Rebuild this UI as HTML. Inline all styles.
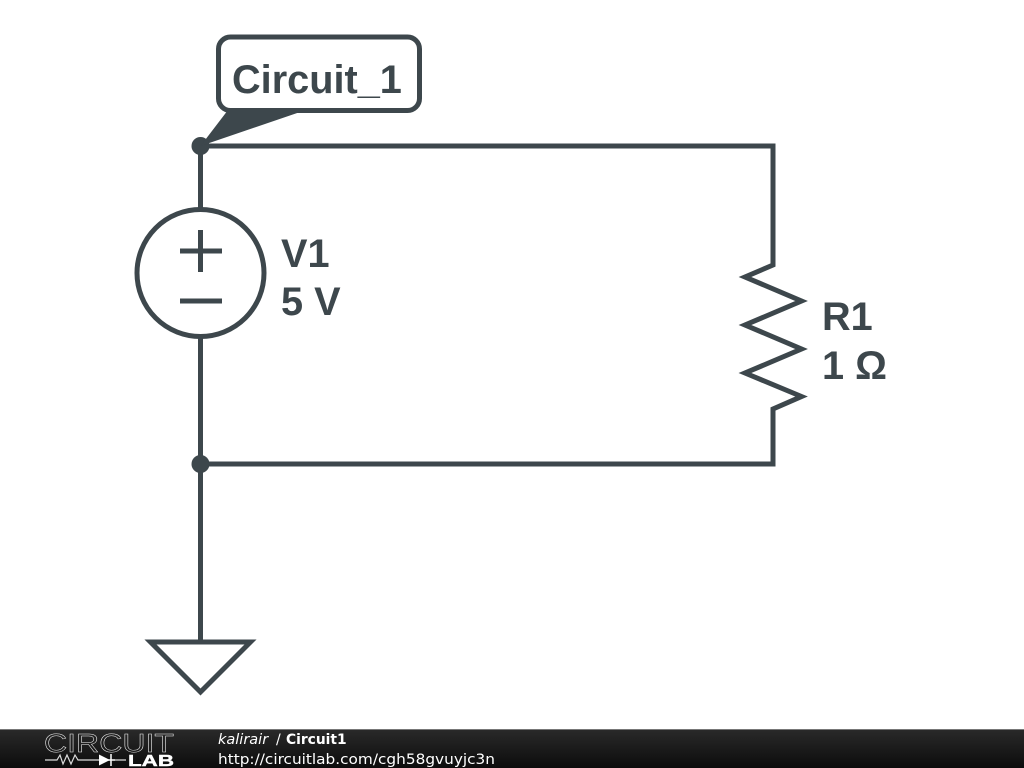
<!DOCTYPE html>
<html>
<head>
<meta charset="utf-8">
<style>
html,body{margin:0;padding:0;background:#fff;width:1024px;height:768px;overflow:hidden}
svg{display:block}
.l{font-family:"Liberation Sans",sans-serif;font-weight:bold;font-size:39.700px;fill:#3d474c}
</style>
</head>
<body>
<svg width="1024" height="768" viewBox="0 0 1024 768" xmlns="http://www.w3.org/2000/svg">
<defs>
<linearGradient id="g" x1="0" y1="0" x2="0" y2="1"><stop offset="0" stop-color="#2a2a2a"/><stop offset="1" stop-color="#0c0c0c"/></linearGradient>
</defs>
<rect width="1024" height="768" fill="#fff"/>
<g fill="none" stroke="#3d474c" stroke-width="5">
<path d="M200.500 146H773V265L745 277L801.500 301L745 325L801.500 349L745 373L801.500 396.500L773 409V464H200.500"/>
<path d="M200.500 146V208M200.500 338V642"/>
<circle cx="200.500" cy="273" r="63.500"/>
<path d="M180 251H222M200.500 230V272M180 301H222"/>
<path d="M150.500 642H250.500L200.500 692Z"/>
<rect x="218.500" y="37" width="201" height="73.500" rx="12" fill="#fff"/>
</g>
<circle cx="200.500" cy="146" r="9" fill="#3d474c"/>
<circle cx="200.500" cy="464" r="9" fill="#3d474c"/>
<path d="M200.500 146L228 110H306Z" fill="#3d474c"/>
<text class="l" x="232" y="93">Circuit_1</text>
<text class="l" x="281" y="267">V1</text>
<text class="l" x="281" y="315">5 V</text>
<text class="l" x="822" y="330">R1</text>
<text class="l" x="822" y="379">1 Ω</text>
<rect y="729" width="1024" height="39" fill="url(#g)"/>
<rect y="729" width="1024" height="1" fill="#777"/>
<text x="44" y="752" font-family="Liberation Sans,sans-serif" font-size="26" fill="none" stroke="#e8e8e8" stroke-width="0.500" textLength="130" lengthAdjust="spacingAndGlyphs">CIRCUIT</text>
<text x="128" y="766" font-family="Liberation Sans,sans-serif" font-weight="bold" font-size="15.500" fill="#fff" stroke="#fff" stroke-width="0.400" textLength="46" lengthAdjust="spacingAndGlyphs">LAB</text>
<path d="M45 760H57L60 755L63 764L67 755L71 764L75 755L78 760H99M115 760H126" fill="none" stroke="#ddd" stroke-width="1.200"/>
<path d="M99 754.500V765.500L110 760Z" fill="#fff"/>
<path d="M99 760H115M111 754V766" fill="none" stroke="#fff" stroke-width="1.500"/>
<text x="218" y="744" font-family="DejaVu Sans,sans-serif" font-size="14.500" font-style="italic" fill="#fff">kalirair</text>
<text x="276" y="744" font-family="DejaVu Sans,sans-serif" font-size="14" fill="#fff">/</text>
<text x="286" y="744" font-family="DejaVu Sans,sans-serif" font-size="13.800" font-weight="bold" fill="#fff">Circuit1</text>
<text x="218" y="764" font-family="DejaVu Sans,sans-serif" font-size="14.500" fill="#fff" textLength="277" lengthAdjust="spacingAndGlyphs">http://circuitlab.com/cgh58gvuyjc3n</text>
</svg>
</body>
</html>
